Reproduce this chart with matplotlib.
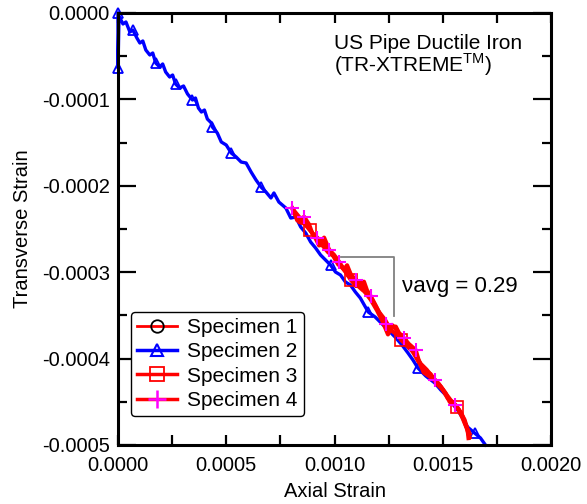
import matplotlib
matplotlib.use("Agg")
import matplotlib.pyplot as plt
import numpy as np
from matplotlib.lines import Line2D
from matplotlib.ticker import MultipleLocator, FormatStrFormatter

plt.rcParams["font.family"] = ["Liberation Sans", "DejaVu Sans"]
plt.rcParams["axes.unicode_minus"] = False
plt.rcParams["mathtext.fontset"] = "custom"
plt.rcParams["mathtext.rm"] = "Liberation Sans"

# strain values in microstrain
spec2_axial = [0, 0, 4.6, 9.2, 22.9, 36.7, 55.0, 68.8, 87.2, 100.9, 114.7, 128.4, 146.8,
               160.5, 174.3, 192.7, 206.4, 220.2, 238.5, 252.3, 266.0, 284.4, 302.7,
               321.1, 344.0, 357.8, 371.5, 385.3, 399.1, 412.8, 431.2,
               435.8, 458.7, 477.1, 500.0, 522.9, 545.9, 568.8, 591.7, 614.7, 637.6,
               660.6, 683.5, 706.4, 720.2, 743.1, 775.2, 798.1, 821.1, 844.0, 866.9,
               889.9, 912.8, 935.7, 958.7, 981.6, 1004.6, 1027.5, 1050.4, 1073.4,
               1096.3, 1119.2, 1155.9, 1188.0, 1215.6, 1247.7, 1279.8, 1311.9, 1339.4,
               1362.3, 1385.3, 1421.9, 1463.3, 1490.8, 1522.9, 1545.8, 1568.8, 1591.7,
               1614.6, 1646.7, 1674.3, 1697.2]
spec2_trans = [0, -63.7, -3.5, -5.8, -12.7, -10.4, -22.0, -19.7, -28.9, -34.7, -32.4,
               -42.8, -48.6, -46.3, -57.9, -62.5, -59.0, -68.3, -74.1, -71.8, -82.2,
               -86.8, -84.5, -93.7, -100.7, -98.4, -110.0, -114.6, -112.3, -122.7, -127.3,
               -131.9, -138.9, -149.3, -152.8, -162.0, -166.7, -172.5, -173.6,
               -184.0, -193.3, -201.4, -207.2, -214.1, -208.3, -218.8, -225.7, -237.3,
               -236.1, -247.7, -254.6, -265.1, -272.0, -280.1, -285.9, -291.7, -299.8,
               -303.2, -311.3, -314.8, -322.9, -329.9, -346.1, -351.9, -358.8, -366.9,
               -375.0, -384.3, -393.5, -401.6, -410.9, -420.2, -428.2, -436.3, -444.4,
               -452.5, -459.5, -468.7, -479.2, -486.1, -491.9, -500.0]

spec1_axial = [810, 833, 856, 879, 902, 925, 948, 971, 994, 1017, 1040, 1063, 1086, 1109,
               1132, 1155, 1178, 1205, 1233, 1260, 1288, 1316, 1343, 1371, 1398, 1426,
               1454, 1481, 1509, 1536, 1564, 1587, 1605, 1624]
spec1_trans = [-228, -235, -242, -249, -256, -264, -270, -277, -281, -291, -295, -304,
               -309, -316, -321, -325, -334, -346, -355, -367, -372, -376, -385, -395,
               -406, -413, -422, -429, -439, -448, -455, -464, -476, -487]

spec3_axial = [814, 837, 865, 888, 911, 929, 957, 980, 1007, 1030, 1053, 1076, 1099, 1118,
               1141, 1168, 1196, 1224, 1247, 1265, 1288, 1306, 1334, 1362, 1389, 1417,
               1444, 1472, 1500, 1523, 1541, 1564, 1582, 1601, 1615, 1619]
spec3_trans = [-230, -242, -244, -251, -260, -269, -267, -277, -284, -293, -300, -309,
               -316, -311, -323, -332, -344, -358, -372, -361, -367, -378, -385, -392,
               -404, -413, -418, -429, -436, -446, -450, -456, -462, -471, -483, -492]

spec4_axial = [805, 828, 860, 883, 897, 920, 938, 952, 975, 998, 1021, 1044, 1058, 1076,
               1099, 1122, 1136, 1150, 1168, 1191, 1219, 1237, 1260, 1283, 1297, 1320,
               1343, 1375, 1389, 1412, 1435, 1463, 1490, 1513, 1532, 1555, 1573, 1592,
               1610, 1624]
spec4_trans = [-226, -240, -236, -245, -255, -260, -265, -260, -274, -280, -288, -297,
               -292, -303, -309, -315, -311, -321, -328, -339, -353, -360, -363, -363,
               -370, -376, -383, -390, -402, -416, -420, -425, -432, -440, -450, -454,
               -459, -469, -480, -491]

spec2_marks = [0, 1, 7, 14, 20, 24, 31, 35, 41, 55, 62, 70, 79]
spec3_marks = [3, 11, 21, 31]
spec4_marks = [0, 2, 5, 8, 10, 14, 18, 21, 25, 27, 31, 35]

# slope bracket (microstrain)
bracket_axial = [1030, 1274, 1274]
bracket_trans = [-282, -282, -351]

us = 1e-6

fig = plt.figure(figsize=(5.87, 5.04), dpi=100)
ax = fig.add_axes([118 / 587, 1 - 445 / 504, 433 / 587, 432 / 504])

ax.plot(np.array(spec2_axial) * us, np.array(spec2_trans) * us, color="#0000ff", lw=2.4,
        marker="^", ms=7, mfc="none", mec="#0000ff", mew=1.3, markevery=spec2_marks,
        zorder=2, clip_on=False)
ax.plot(np.array(spec1_axial) * us, np.array(spec1_trans) * us, color="#ff0000", lw=3,
        zorder=3)
ax.plot(np.array(spec3_axial) * us, np.array(spec3_trans) * us, color="#ff0000", lw=3,
        marker="s", ms=8, mfc="none", mec="#ff0000", mew=1.2, markevery=spec3_marks,
        zorder=3)
ax.plot(np.array(spec4_axial) * us, np.array(spec4_trans) * us, color="#ff0000", lw=3,
        marker="+", ms=10, mec="#ff00ff", mew=1.5, markevery=spec4_marks, zorder=4)

ax.plot(np.array(bracket_axial) * us, np.array(bracket_trans) * us, color="#808080",
        lw=1.3, zorder=1)
ax.text(0.656, 0.354, "\u03bdavg = 0.29", transform=ax.transAxes, fontsize=16,
        ha="left", va="baseline")

ax.text(0.499, 0.952, "US Pipe Ductile Iron\n(TR-XTREME$^{\\mathregular{TM}}$)",
        transform=ax.transAxes, fontsize=15, ha="left", va="top", linespacing=0.95)

handles = [
    Line2D([], [], color="#ff0000", lw=2, marker="o", ms=9, mfc="none", mec="black",
           mew=1.3),
    Line2D([], [], color="#0000ff", lw=2.5, marker="^", ms=9, mfc="none",
           mec="#0000ff", mew=1.5),
    Line2D([], [], color="#ff0000", lw=2.5, marker="s", ms=10, mfc="none",
           mec="#ff0000", mew=1.3),
    Line2D([], [], color="#ff0000", lw=2.5, marker="+", ms=13, mec="#ff00ff", mew=1.8),
]
leg = ax.legend(handles, ["Specimen 1", "Specimen 2", "Specimen 3", "Specimen 4"],
                loc="lower left", bbox_to_anchor=(0.03, 0.067), borderaxespad=0,
                fontsize=15, handlelength=1.9, labelspacing=0.25, handletextpad=0.5,
                borderpad=0.3, fancybox=True, framealpha=1)
leg.get_frame().set_edgecolor("black")
leg.get_frame().set_linewidth(1.0)

ax.set_xlim(0, 0.002)
ax.set_ylim(-0.0005, 0)
ax.xaxis.set_major_locator(MultipleLocator(0.0005))
ax.xaxis.set_minor_locator(MultipleLocator(0.00025))
ax.yaxis.set_major_locator(MultipleLocator(0.0001))
ax.yaxis.set_minor_locator(MultipleLocator(0.00005))
ax.xaxis.set_major_formatter(FormatStrFormatter("%.4f"))
ax.yaxis.set_major_formatter(FormatStrFormatter("%.4f"))

ax.tick_params(axis="both", which="both", direction="in", top=True, right=True,
               labelsize=14.5, width=1.6)
ax.tick_params(axis="x", which="both", length=7, pad=8)
ax.tick_params(axis="y", which="major", length=13, pad=6)
ax.tick_params(axis="y", which="minor", length=6.5)
for spine in ax.spines.values():
    spine.set_linewidth(2.2)

ax.set_xlabel("Axial Strain", fontsize=14.5, labelpad=5)
ax.set_ylabel("Transverse Strain", fontsize=14.5, labelpad=7)

fig.savefig("out.png", dpi=100)
